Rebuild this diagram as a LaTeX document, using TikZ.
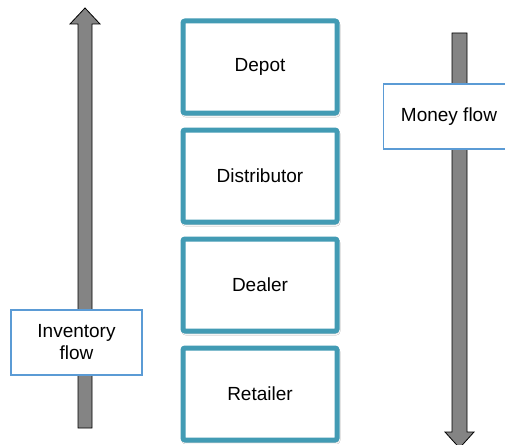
\documentclass[tikz,border=0pt]{standalone}
\usepackage{fontspec}
\setmainfont{Liberation Sans}
\usetikzlibrary{positioning,shadows.blur}
\definecolor{stageedge}{RGB}{66,155,180}
\definecolor{flowedge}{RGB}{91,155,213}
\definecolor{shaftgray}{RGB}{132,132,132}
\tikzset{
  stage/.style={draw=stageedge, line width=5pt, fill=white, rounded corners=2pt,
    minimum width=154pt, minimum height=92pt, font=\fontsize{19}{22}\selectfont,
    blur shadow={shadow xshift=1pt, shadow yshift=-2pt, shadow opacity=30, shadow blur steps=6}},
  flowlabel/.style={draw=flowedge, line width=1.5pt, fill=white, align=center,
    minimum width=131pt, minimum height=65pt, font=\fontsize{19}{22}\selectfont},
  blockarrow/.style={draw=black, fill=shaftgray, line width=0.8pt, line join=miter}
}
\begin{document}
\begin{tikzpicture}[x=1pt, y=-1pt]
  \clip (0,0) rectangle (505,444);
  \fill[white] (0,0) rectangle (505,444);

  % goods go up, money comes down
  \draw[blockarrow] (78,428) -- (78,24) -- (70,24) -- (85,8) -- (100,24)
    -- (92,24) -- (92,428) -- cycle;
  \draw[blockarrow] (452,33) -- (452,432) -- (445,432) -- (459.5,448)
    -- (474,432) -- (467,432) -- (467,33) -- cycle;

  % the chain
  \node[stage] (depot) at (260,67) {Depot};
  \node[stage, below=12pt of depot] (distributor) {Distributor};
  \node[stage, below=12pt of distributor] (dealer) {Dealer};
  \node[stage, below=12pt of dealer] (retailer) {Retailer};

  \node[flowlabel] (inventory) at (76.5,342.5) {Inventory\\flow};
  \node[flowlabel] (money) at (449,116.5) {Money flow};
\end{tikzpicture}
\end{document}
